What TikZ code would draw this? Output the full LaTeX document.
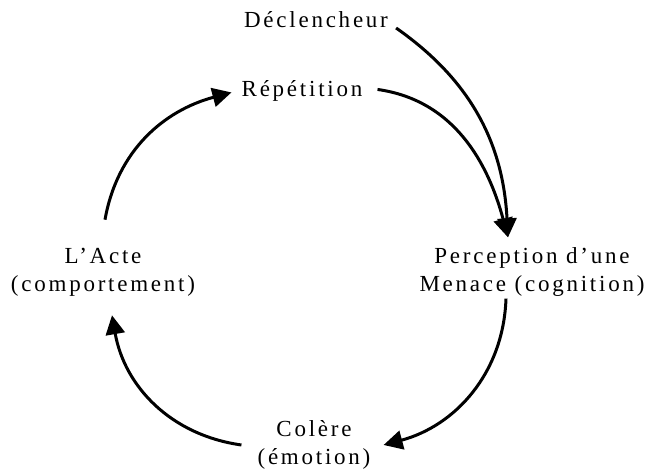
\documentclass[tikz,border=0pt]{standalone}
\usepackage{fontspec}
\setmainfont{Liberation Serif}[LetterSpace=12]
\usetikzlibrary{arrows.meta}

\begin{document}
\begin{tikzpicture}[x=1pt,y=1pt,
	lbl/.style={inner sep=0pt,align=center,font=\fontsize{23}{28}\selectfont},
	flow/.style={line width=3pt,-{Triangle[length=19pt,width=19pt]}}]

	\useasboundingbox (0,0) rectangle (646,470);

	\node[lbl,anchor=base] (decl) at (316,442) {Déclencheur};
	\node[lbl,anchor=base] (rep) at (302,373) {Répétition};
	\node[lbl] (perc) at (532,198) {Perception d'une\\Menace (cognition)};
	\node[lbl] (col) at (314,25) {Colère\\(émotion)};
	\node[lbl] (acte) at (103,198) {L'Acte\\(comportement)};

	% the cycle
	\draw[flow] ([xshift=8pt]decl.base east) to[out=-35,in=93] ([xshift=-24pt,yshift=10pt]perc.north);
	\draw[flow] ([xshift=15pt,yshift=2pt]rep.east) to[out=-8,in=105] ([xshift=-24pt,yshift=10pt]perc.north);
	\draw[flow] ([xshift=-26pt,yshift=-2pt]perc.south) to[out=-92,in=15] ([xshift=13pt]col.east);
	\draw[flow] ([xshift=-16pt]col.west) to[out=172,in=-80] ([xshift=9pt,yshift=-19pt]acte.south);
	\draw[flow] ([xshift=2pt,yshift=28pt]acte.north) to[out=80,in=195] ([xshift=-10pt,yshift=-1pt]rep.west);

\end{tikzpicture}
\end{document}
